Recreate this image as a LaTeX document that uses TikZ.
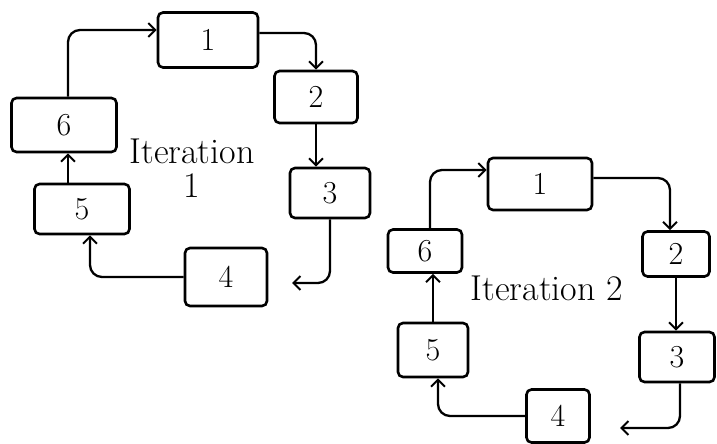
\documentclass[tikz,border=0pt]{standalone}
\usetikzlibrary{arrows.meta}
\begin{document}
\begin{tikzpicture}[x=1pt,y=-1pt,
  box/.style={draw=black, line width=2.6pt, rounded corners=5pt, inner sep=0pt, font=\fontsize{32}{34}\selectfont},
  arr/.style={draw=black, line width=2.3pt, rounded corners=12pt, -{Straight Barb[length=7pt,width=14pt,line width=2pt]}},
  lbl/.style={font=\fontsize{36}{34}\selectfont, align=center}]
\useasboundingbox[fill=white] (0,0) rectangle (717,444);
% Iteration 1
\node[box, minimum width=100pt, minimum height=55pt] (a1) at (208,40) {1};
\node[box, minimum width=83pt, minimum height=52pt] (a2) at (316,97) {2};
\node[box, minimum width=80pt, minimum height=50pt] (a3) at (330,193) {3};
\node[box, minimum width=82pt, minimum height=58pt] (a4) at (226,277) {4};
\node[box, minimum width=95pt, minimum height=50pt] (a5) at (82,209) {5};
\node[box, minimum width=105pt, minimum height=54pt] (a6) at (64,125) {6};
\node[lbl] (t1) at (192,168) {Iteration\\1};
\coordinate (e1) at (292,283);
\draw[arr] ([xshift=4pt]a6.north) |- ([yshift=10pt]a1.west);
\draw[arr] ([yshift=7pt]a1.east) -| (a2.north);
\draw[arr] (a2.south) -- (a2.south |- a3.north);
\draw[arr] (a3.south) |- (e1);
\draw[arr] (a4.west) -| ([xshift=8pt]a5.south);
\draw[arr] ([xshift=-14pt]a5.north) -- ([xshift=4pt]a6.south);
% Iteration 2
\node[box, minimum width=104pt, minimum height=52pt] (b1) at (540,184) {1};
\node[box, minimum width=67pt, minimum height=45pt] (b2) at (676,254) {2};
\node[box, minimum width=75pt, minimum height=50pt] (b3) at (677,357) {3};
\node[box, minimum width=63pt, minimum height=53pt] (b4) at (558,416) {4};
\node[box, minimum width=70pt, minimum height=54pt] (b5) at (433,350) {5};
\node[box, minimum width=74pt, minimum height=43pt] (b6) at (425,251) {6};
\node[lbl] (t2) at (547,288) {Iteration 2};
\coordinate (e2) at (620,428);
\draw[arr] ([xshift=5pt]b6.north) |- ([yshift=14pt]b1.west);
\draw[arr] ([yshift=6pt]b1.east) -| ([xshift=-6pt]b2.north);
\draw[arr] (b2.south) -- (b2.south |- b3.north);
\draw[arr] ([xshift=3pt]b3.south) |- (e2);
\draw[arr] (b4.west) -| ([xshift=5pt]b5.south);
\draw[arr] (b5.north) -- (b5.north |- b6.south);
\end{tikzpicture}
\end{document}
